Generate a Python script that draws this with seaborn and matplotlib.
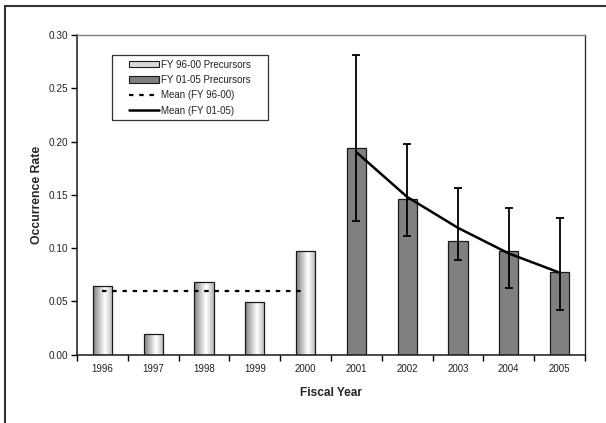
import numpy as np
import pandas as pd
import matplotlib
matplotlib.use("Agg")
import matplotlib.pyplot as plt
import seaborn as sns
from matplotlib.patches import Patch
from matplotlib.lines import Line2D
from matplotlib.legend_handler import HandlerPatch, HandlerLine2D

# ---- data ----
years = ["1996", "1997", "1998", "1999", "2000", "2001", "2002", "2003", "2004", "2005"]
rates = [0.064, 0.019, 0.068, 0.049, 0.097, 0.194, 0.146, 0.107, 0.097, 0.078]
periods = ["FY 96-00 Precursors"] * 5 + ["FY 01-05 Precursors"] * 5
err_low = [None] * 5 + [0.125, 0.111, 0.089, 0.063, 0.042]
err_high = [None] * 5 + [0.281, 0.198, 0.156, 0.138, 0.128]
mean_96_00 = 0.060
mean_01_05 = [0.190, 0.148, 0.119, 0.095, 0.077]
yticks = [0.00, 0.05, 0.10, 0.15, 0.20, 0.25, 0.30]

sns.set_theme(style="white")
plt.rcParams["font.family"] = ["Liberation Sans", "DejaVu Sans"]

df = pd.DataFrame({"year": years, "rate": rates, "period": periods})

fig = plt.figure(figsize=(6.06, 4.23), dpi=100)
ax = fig.add_axes([77 / 606, 1 - 354.7 / 423, (585 - 77) / 606, (354.7 - 35) / 423])

sns.barplot(data=df, x="year", y="rate", hue="period", dodge=False, width=0.38,
            palette={"FY 96-00 Precursors": "#e8e8e8", "FY 01-05 Precursors": "#808080"},
            edgecolor="#1a1a1a", linewidth=0.9, legend=False, ax=ax)

# cylinder-like gradient on first-period bars
prof = np.concatenate([np.linspace(0.50, 1.0, 60), np.linspace(1.0, 0.72, 40)])
grad = np.tile(prof, (2, 1))
for p in ax.patches:
    if p.get_facecolor()[0] > 0.85:
        x0, y0 = p.get_x(), p.get_y()
        w, h = p.get_width(), p.get_height()
        im = ax.imshow(grad, cmap="gray", vmin=0, vmax=1, extent=[x0, x0 + w, y0, y0 + h],
                       aspect="auto", zorder=p.get_zorder(), interpolation="bilinear")
        im.set_clip_path(p)
        p.set_facecolor("none")
        p.set_zorder(p.get_zorder() + 0.1)

# error bars
xs = np.arange(len(years))
idx = [i for i in range(len(years)) if err_low[i] is not None]
lo = [rates[i] - err_low[i] for i in idx]
hi = [err_high[i] - rates[i] for i in idx]
ax.errorbar(xs[idx], [rates[i] for i in idx], yerr=[lo, hi], fmt="none",
            ecolor="black", elinewidth=1.3, capsize=2.8, capthick=1.3, zorder=5)

# means
sns.lineplot(x=xs[:5], y=[mean_96_00] * 5, color="black", lw=1.6,
             linestyle=(0, (2, 2.6)), ax=ax, zorder=6)
sns.lineplot(x=xs[5:], y=mean_01_05, color="black", lw=1.8, ax=ax, zorder=6)

ax.set_xlim(-0.5, 9.5)
ax.set_ylim(0, 0.30)
ax.set_yticks(yticks)
ax.set_yticklabels([f"{v:.2f}" for v in yticks])
ax.set_xticks(xs)
ax.set_xticklabels(years)
ax.set_xticks(np.arange(-0.5, 10, 1), minor=True)
ax.tick_params(axis="x", which="major", length=0, pad=7, labelsize=7, colors="#222222")
ax.tick_params(axis="x", which="minor", length=4, width=1, direction="out", color="black", bottom=True)
ax.tick_params(axis="y", length=4, width=1, direction="out", color="black", left=True,
               labelsize=7.2, pad=2, colors="#222222")
ax.set_xlabel("Fiscal Year", fontsize=8.6, fontweight="bold", labelpad=9)
ax.set_ylabel("Occurrence Rate", fontsize=8.8, fontweight="bold", labelpad=4)

for s in ["left", "bottom"]:
    ax.spines[s].set_color("#1a1a1a")
    ax.spines[s].set_linewidth(1.1)
ax.spines["top"].set_color("#808080")
ax.spines["top"].set_linewidth(1.0)
ax.spines["right"].set_color("#333333")
ax.spines["right"].set_linewidth(1.0)

handles = [
    Patch(facecolor="#d8d8d8", edgecolor="#1a1a1a", linewidth=0.8, label="FY 96-00 Precursors"),
    Patch(facecolor="#808080", edgecolor="#1a1a1a", linewidth=0.8, label="FY 01-05 Precursors"),
    Line2D([], [], color="black", lw=1.6, linestyle=(0, (2, 2.6)), label="Mean (FY 96-00)"),
    Line2D([], [], color="black", lw=1.8, label="Mean (FY 01-05)"),
]
xpad = 1.35
leg = ax.legend(handles=handles, loc="upper left",
                bbox_to_anchor=(0.068, 0.937 - 0.3, 0.307, 0.3), mode="expand",
                borderaxespad=0, fontsize=7, frameon=True, fancybox=False,
                handlelength=3.1 + xpad, handleheight=0.6, handletextpad=0.15,
                labelspacing=0.55, borderpad=0.45,
                handler_map={Patch: HandlerPatch(xpad=xpad), Line2D: HandlerLine2D(xpad=xpad)})
leg.get_frame().set_edgecolor("black")
leg.get_frame().set_linewidth(0.9)
for t in leg.get_texts():
    t.set_color("#222222")

# outer chart border (left and top visible)
fig.add_artist(Line2D([4.5 / 606, 4.5 / 606], [0, 1 - 6 / 423], color="#333333", lw=1.5,
                      transform=fig.transFigure))
fig.add_artist(Line2D([4.5 / 606, 1], [1 - 6 / 423, 1 - 6 / 423], color="#333333", lw=1.5,
                      transform=fig.transFigure))

fig.savefig("out.png", dpi=100)
